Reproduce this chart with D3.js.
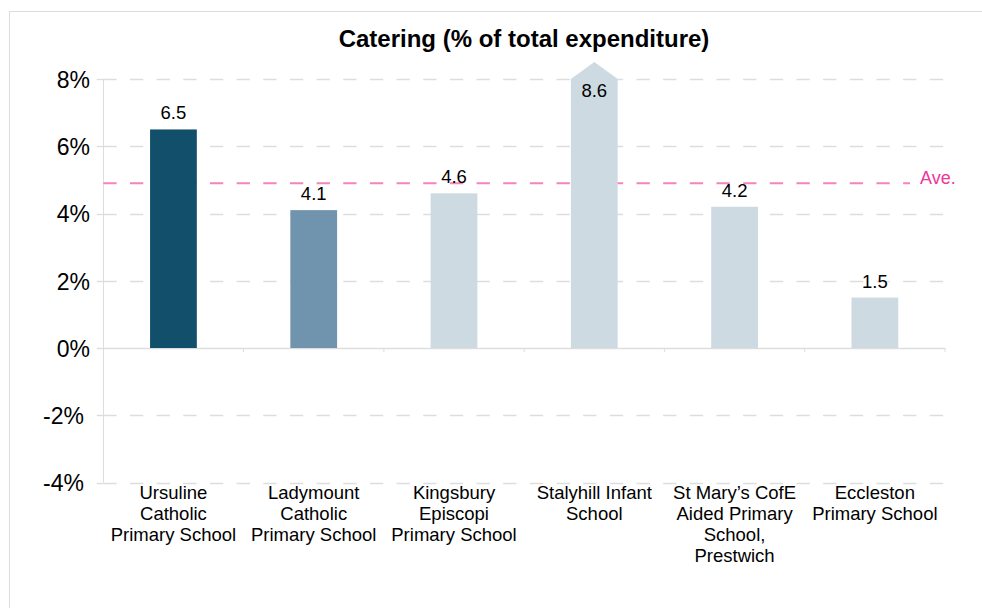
<!DOCTYPE html>
<html>
<head>
<meta charset="utf-8">
<script src="https://cdn.jsdelivr.net/npm/d3@7"></script>
<style>
  html, body { margin: 0; padding: 0; background: #fff; }
  svg { display: block; font-family: "Liberation Sans", Arial, sans-serif; }
</style>
</head>
<body>
<svg id="chart" width="982" height="608"></svg>
<script>
// ---- data ----
const categories = [
  "Ursuline Catholic Primary School",
  "Ladymount Catholic Primary School",
  "Kingsbury Episcopi Primary School",
  "Stalyhill Infant School",
  "St Mary’s CofE Aided Primary School, Prestwich",
  "Eccleston Primary School"
];
const categoryLines = [
  ["Ursuline", "Catholic", "Primary School"],
  ["Ladymount", "Catholic", "Primary School"],
  ["Kingsbury", "Episcopi", "Primary School"],
  ["Stalyhill Infant", "School"],
  ["St Mary’s CofE", "Aided Primary", "School,", "Prestwich"],
  ["Eccleston", "Primary School"]
];
const values = [6.5, 4.1, 4.6, 8.6, 4.2, 1.5];
const average = 4.9;
const yTicks = [-4, -2, 0, 2, 4, 6, 8];
const title = "Catering (% of total expenditure)";

// ---- styles ----
const barColors = ["#124f6a", "#7094ad", "#cedae2", "#cedae2", "#cedae2", "#cedae2"];
const gridColor = "#dddddd";

const svg = d3.select("#chart");

// outer frame
svg.append("rect")
  .attr("x", 9.5).attr("y", 11.5)
  .attr("width", 1000).attr("height", 700)
  .attr("fill", "none").attr("stroke", "#dcdcdc").attr("stroke-width", 1);

const x = d3.scaleBand().domain(categories).range([103.3, 945]).paddingInner(0).paddingOuter(0);
const y = d3.scaleLinear().domain([-4, 8]).range([482.5, 79]);
const barW = x.bandwidth() / 3;
const x0Axis = x.range()[0];

// title
svg.append("text")
  .attr("x", (103 + 945) / 2).attr("y", 47)
  .attr("text-anchor", "middle")
  .attr("font-size", 24).attr("font-weight", "bold").attr("fill", "#000")
  .text(title);

// gridlines (dashed) except zero, with short solid tick on the left
const grid = svg.append("g");
const gridTicks = yTicks.filter(d => d !== 0);
grid.selectAll("line.g").data(gridTicks).join("line")
  .attr("class", "g")
  .attr("x1", x0Axis).attr("x2", 945)
  .attr("y1", d => Math.round(y(d)) + 0.5).attr("y2", d => Math.round(y(d)) + 0.5)
  .attr("stroke", gridColor).attr("stroke-width", 1.4)
  .attr("stroke-dasharray", "13.33,13.33");
grid.selectAll("line.t").data(gridTicks).join("line")
  .attr("class", "t")
  .attr("x1", 96.7).attr("x2", x0Axis)
  .attr("y1", d => Math.round(y(d)) + 0.5).attr("y2", d => Math.round(y(d)) + 0.5)
  .attr("stroke", gridColor).attr("stroke-width", 1.4);

// y axis line
svg.append("line")
  .attr("x1", 103.5).attr("x2", 103.5)
  .attr("y1", y(8)).attr("y2", y(-4))
  .attr("stroke", gridColor).attr("stroke-width", 1);

// y tick labels
const yAxis = d3.axisLeft(y).tickValues(yTicks).tickSize(0).tickPadding(13)
  .tickFormat(d => d + "%");
const yg = svg.append("g").attr("transform", "translate(103,0)").call(yAxis);
yg.select(".domain").remove();
yg.selectAll(".tick text")
  .attr("font-size", 23).attr("fill", "#000")
  .attr("font-family", "Liberation Sans, Arial, sans-serif")
  .attr("dy", "0.36em")
  .attr("x", d => d < 0 ? -19 : -13);

// zero line with band ticks
svg.append("line")
  .attr("x1", 96.7).attr("x2", 945)
  .attr("y1", Math.round(y(0)) + 0.5).attr("y2", Math.round(y(0)) + 0.5)
  .attr("stroke", gridColor).attr("stroke-width", 1.5);
svg.append("g").selectAll("line")
  .data(categories.map(c => x(c) + x.bandwidth()))
  .join("line")
  .attr("x1", d => d).attr("x2", d => d)
  .attr("y1", y(0)).attr("y2", y(0) + 4)
  .attr("stroke", gridColor).attr("stroke-width", 1);

// average line (behind bars)
svg.append("line")
  .attr("x1", x0Axis).attr("x2", 910)
  .attr("y1", y(average)).attr("y2", y(average))
  .attr("stroke", "#f584bd").attr("stroke-width", 2)
  .attr("stroke-dasharray", "13.33,13.33");
svg.append("text")
  .attr("x", 920).attr("y", y(average) + 1)
  .attr("font-size", 18).attr("fill", "#f0359a")
  .text("Ave.");

// bars (clipped at top of scale with arrow)
const yMax = y.domain()[1];
const bars = svg.append("g");
categories.forEach((c, i) => {
  const v = values[i];
  const cx = x(c) + x.bandwidth() / 2;
  const x0 = cx - barW / 2, x1 = cx + barW / 2;
  if (v > yMax) {
    const top = y(yMax);
    const p = d3.path();
    p.moveTo(x0, y(0));
    p.lineTo(x0, top);
    p.lineTo(cx, top - 17);
    p.lineTo(x1, top);
    p.lineTo(x1, y(0));
    p.closePath();
    bars.append("path").attr("d", p.toString()).attr("fill", barColors[i]);
    bars.append("text")
      .attr("x", cx).attr("y", top + 18)
      .attr("text-anchor", "middle").attr("font-size", 18.5).attr("fill", "#000")
      .text(v.toFixed(1));
  } else {
    bars.append("rect")
      .attr("x", x0).attr("width", barW)
      .attr("y", y(Math.max(0, v))).attr("height", Math.abs(y(v) - y(0)))
      .attr("fill", barColors[i]);
  }
});

// value labels (above bars)
categories.forEach((c, i) => {
  const v = values[i];
  if (v > yMax) return;
  svg.append("text")
    .attr("x", x(c) + x.bandwidth() / 2).attr("y", y(v) - 10)
    .attr("text-anchor", "middle").attr("font-size", 18.5).attr("fill", "#000")
    .text(v.toFixed(1));
});

// category labels
const cl = svg.append("g");
categories.forEach((c, i) => {
  const t = cl.append("text")
    .attr("x", x(c) + x.bandwidth() / 2).attr("y", 499)
    .attr("text-anchor", "middle").attr("font-size", 18.5).attr("fill", "#000");
  categoryLines[i].forEach((line, j) => {
    t.append("tspan").attr("x", x(c) + x.bandwidth() / 2).attr("dy", j === 0 ? 0 : 21).text(line);
  });
});
</script>
</body>
</html>
